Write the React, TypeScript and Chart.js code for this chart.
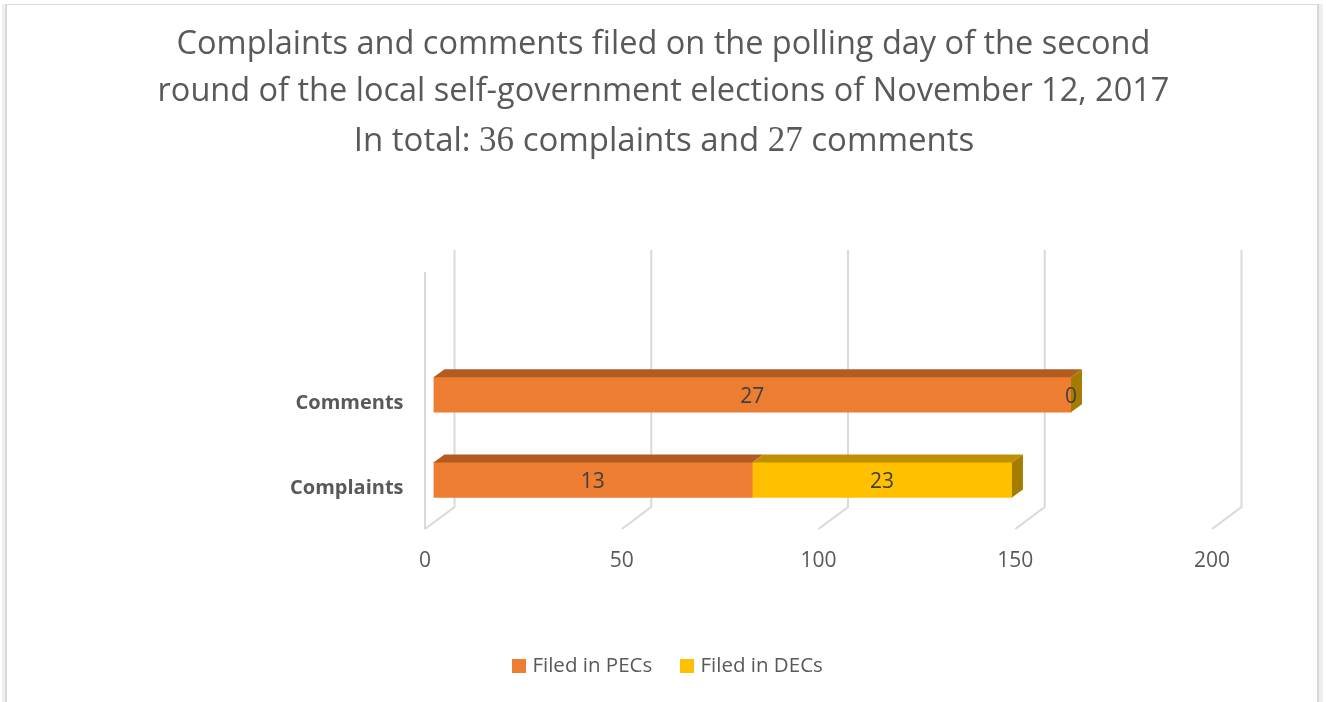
import React, { useEffect, useRef } from "react";
import { Chart, registerables } from "chart.js";

Chart.register(...registerables);

const categories = ["Comments", "Complaints"];
const seriesNames = ["Filed in PECs", "Filed in DECs"];
// Bar lengths as drawn in the picture (they differ from the printed labels).
const pecLengths = [162, 81];
const decLengths = [0, 66];
const pecLabels = ["27", "13"];
const decLabels = ["0", "23"];
const titleLines = [
  "Complaints and comments filed on the polling day of the second",
  "round of the local self-government elections of November 12, 2017",
];
const titleLastRuns = [
  ["In total: ", "sans"],
  ["36", "serif"],
  [" complaints and ", "sans"],
  ["27", "serif"],
  [" comments", "sans"],
];
const axisMin = 0;
const axisMax = 200;
const axisStep = 50;

const SANS = '"Open Sans", sans-serif';
const SERIF = '"Liberation Serif", serif';
const TEXT = "#595959";
const GRID = "#D9D9D9";
const FACE = ["#ED7D31", "#FFC000"];
const TOP = ["#B35C22", "#BF9000"];
const SIDE = ["#B35C22", "#A67C00"];
const DX = 11;
const DY = 8;

function swatch(color: string) {
  const c = document.createElement("canvas");
  c.width = 14;
  c.height = 14;
  const x = c.getContext("2d")!;
  x.fillStyle = color;
  x.fillRect(0, 0, 14, 14);
  return c;
}

const frame3d = {
  id: "frame3d",
  afterLayout(chart: any) {
    chart.legend.left += 6;
    chart.legend.right += 6;
  },
  beforeDraw(chart: any) {
    const { ctx, height } = chart;
    ctx.save();
    ctx.fillStyle = "#FFFFFF";
    ctx.fillRect(0, 0, chart.width, height);
    ctx.fillStyle = "#EFEFEF";
    ctx.fillRect(2, 4, 3, height - 4);
    ctx.fillRect(1319, 4, 4, height - 4);
    ctx.fillStyle = GRID;
    ctx.fillRect(5, 4, 2, height - 4);
    ctx.fillRect(1317, 4, 2, height - 4);
    ctx.fillRect(5, 4, 1314, 1);
    ctx.restore();
  },
  beforeDatasetsDraw(chart: any) {
    const { ctx } = chart;
    const xs = chart.scales.x;
    ctx.save();
    ctx.strokeStyle = GRID;
    ctx.lineWidth = 2;
    xs.ticks.forEach((t: any, i: number) => {
      const fx = xs.getPixelForValue(t.value) - 8.5;
      const bx = fx + 29.5;
      ctx.beginPath();
      ctx.moveTo(fx, 529);
      ctx.lineTo(bx, 507);
      ctx.lineTo(bx, 250);
      ctx.stroke();
      if (i === 0) {
        ctx.beginPath();
        ctx.moveTo(fx, 529);
        ctx.lineTo(fx, 272);
        ctx.stroke();
      }
    });
    ctx.restore();
  },
  afterDatasetsDraw(chart: any) {
    const { ctx } = chart;
    const metas = [chart.getDatasetMeta(0), chart.getDatasetMeta(1)];
    ctx.save();
    metas.forEach((meta: any, d: number) => {
      meta.data.forEach((bar: any) => {
        const x0 = bar.base;
        const x1 = bar.x;
        const yT = bar.y - bar.height / 2;
        const yB = bar.y + bar.height / 2;
        if (x1 > x0) {
          ctx.fillStyle = TOP[d];
          ctx.beginPath();
          ctx.moveTo(x0, yT);
          ctx.lineTo(x0 + DX, yT - DY);
          ctx.lineTo(x1 + DX, yT - DY);
          ctx.lineTo(x1, yT);
          ctx.closePath();
          ctx.fill();
        }
        if (d === 1) {
          ctx.fillStyle = SIDE[d];
          ctx.beginPath();
          ctx.moveTo(x1, yT);
          ctx.lineTo(x1 + DX, yT - DY);
          ctx.lineTo(x1 + DX, yB - DY);
          ctx.lineTo(x1, yB);
          ctx.closePath();
          ctx.fill();
        }
      });
    });
    // data labels
    ctx.fillStyle = "#404040";
    ctx.font = `21px ${SANS}`;
    ctx.textAlign = "center";
    ctx.textBaseline = "middle";
    const texts = [pecLabels, decLabels];
    metas.forEach((meta: any, d: number) => {
      meta.data.forEach((bar: any, i: number) => {
        ctx.fillText(texts[d][i], (bar.base + bar.x) / 2, bar.y + 2);
      });
    });
    // third title line, mixed fonts
    const fontOf = (k: string) => (k === "serif" ? `35px ${SERIF}` : `33px ${SANS}`);
    let total = 0;
    titleLastRuns.forEach(([s, k]) => {
      ctx.font = fontOf(k);
      total += ctx.measureText(s).width;
    });
    let x = 664 - total / 2;
    ctx.fillStyle = TEXT;
    ctx.textAlign = "left";
    ctx.textBaseline = "alphabetic";
    titleLastRuns.forEach(([s, k]) => {
      ctx.font = fontOf(k);
      ctx.fillText(s, x, 151);
      x += ctx.measureText(s).width;
    });
    ctx.restore();
  },
};

export default function App() {
  const ref = useRef<HTMLCanvasElement>(null);
  useEffect(() => {
    const chart = new Chart(ref.current!, {
      type: "bar",
      data: {
        labels: categories,
        datasets: [
          { label: seriesNames[0], data: pecLengths, backgroundColor: FACE[0], barThickness: 35 },
          { label: seriesNames[1], data: decLengths, backgroundColor: FACE[1], barThickness: 35 },
        ],
      },
      plugins: [frame3d],
      options: {
        indexAxis: "y",
        animation: false,
        responsive: false,
        layout: { padding: { left: 106.5, right: 105.5, top: 0, bottom: 16 } },
        scales: {
          x: {
            stacked: true,
            min: axisMin,
            max: axisMax,
            grid: { display: false, drawTicks: false },
            border: { display: false },
            ticks: {
              stepSize: axisStep,
              color: TEXT,
              font: { family: SANS, size: 21 },
              padding: 26,
              labelOffset: -8.5,
              maxRotation: 0,
            },
            afterFit(s: any) {
              s.height = 101;
            },
          },
          y: {
            stacked: true,
            grid: { display: false, drawTicks: false },
            border: { display: false },
            ticks: {
              color: TEXT,
              font: { family: SANS, size: 20, weight: "bold" },
              padding: 30,
              labelOffset: 8.5,
            },
            afterFit(s: any) {
              s.width = 327;
            },
          },
        },
        plugins: {
          tooltip: { enabled: false },
          title: {
            display: true,
            text: titleLines,
            color: TEXT,
            font: { family: SANS, size: 32.5, weight: "normal", lineHeight: "47px" },
            padding: { top: 21, bottom: 237 },
          },
          legend: {
            display: true,
            position: "bottom",
            labels: {
              color: TEXT,
              font: { family: SANS, size: 20.5 },
              usePointStyle: true,
              pointStyleWidth: 6,
              padding: 32,
              generateLabels(c: any) {
                return Chart.defaults.plugins.legend.labels.generateLabels(c).map((l: any, i: number) => ({
                  ...l,
                  pointStyle: swatch(FACE[i]),
                }));
              },
            },
          },
        },
      },
    } as any);
    return () => chart.destroy();
  }, []);
  return (
    <div style={{ position: "fixed", left: 0, top: 0, width: 1326, height: 702 }}>
      <canvas ref={ref} width={1326} height={702} style={{ display: "block" }} />
    </div>
  );
}
